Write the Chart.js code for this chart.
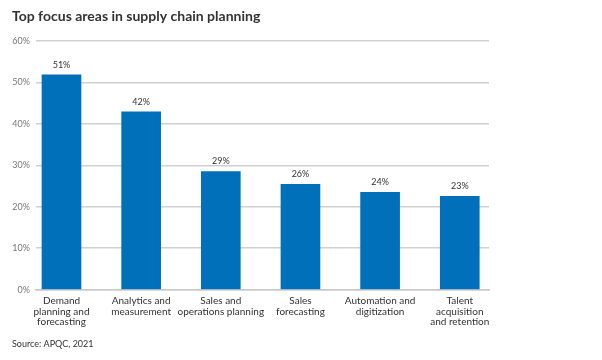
<!DOCTYPE html>
<html>
<head>
<meta charset="utf-8">
<script src="https://cdn.jsdelivr.net/npm/chart.js@4"></script>
<style>
html,body{margin:0;padding:0;background:#fff;}
#wrap{width:602px;height:360px;position:relative;}
</style>
</head>
<body>
<div id="wrap"><canvas id="c" width="602" height="360"></canvas></div>
<script>
const categories = [
  ["Demand", "planning and", "forecasting"],
  ["Analytics and", "measurement"],
  ["Sales and", "operations planning"],
  ["Sales", "forecasting"],
  ["Automation and", "digitization"],
  ["Talent", "acquisition", "and retention"]
];
const values = [51.8, 42.9, 28.5, 25.4, 23.5, 22.5];
const valueLabels = ["51%", "42%", "29%", "26%", "24%", "23%"];
const yTicks = [0, 10, 20, 30, 40, 50, 60];

const FONT = "Lato, 'Open Sans', sans-serif";

const barLabelPlugin = {
  id: 'barLabels',
  afterDatasetsDraw(chart) {
    const ctx = chart.ctx;
    const meta = chart.getDatasetMeta(0);
    ctx.save();
    ctx.font = "9px " + FONT;
    ctx.fillStyle = '#333';
    ctx.textAlign = 'center';
    ctx.textBaseline = 'middle';
    meta.data.forEach((el, i) => {
      ctx.fillText(valueLabels[i], el.x, el.y - 10);
    });
    ctx.restore();
  }
};

new Chart(document.getElementById('c'), {
  type: 'bar',
  data: {
    datasets: [{
      data: values.map((v, i) => ({x: i, y: v})),
      backgroundColor: '#0070BB',
      borderWidth: 0,
      barThickness: 39
    }]
  },
  options: {
    responsive: false,
    animation: false,
    devicePixelRatio: 1,
    layout: { padding: { left: 12, right: 113, top: 8, bottom: 11 } },
    plugins: {
      legend: { display: false },
      tooltip: { enabled: false },
      title: {
        display: true,
        text: 'Top focus areas in supply chain planning',
        align: 'start',
        color: '#333',
        font: { family: FONT, size: 14, weight: 'bold' },
        padding: { top: 0, bottom: 16 }
      },
      subtitle: {
        display: true,
        position: 'bottom',
        text: 'Source: APQC, 2021',
        align: 'start',
        color: '#333',
        font: { family: FONT, size: 9 },
        padding: { top: 5, bottom: 0 }
      }
    },
    scales: {
      x: {
        type: 'linear',
        offset: false,
        min: -0.32,
        max: 5.367,
        grid: { display: false, drawTicks: false },
        border: { display: true, color: '#c8c8c8', width: 1.5 },
        ticks: {
          stepSize: 1,
          includeBounds: false,
          autoSkip: false,
          maxRotation: 0,
          padding: 6,
          color: '#333',
          font: { family: FONT, size: 10, lineHeight: 1.05 },
          callback: (v) => (Number.isInteger(v) && categories[v]) ? categories[v] : ''
        }
      },
      y: {
        min: 0,
        max: 60,
        afterFit: (s) => { s.width = 24; },
        afterBuildTicks: (s) => { s.ticks = yTicks.map(v => ({value: v})); },
        grid: { color: '#d0d0d0', lineWidth: 1.5, drawTicks: false },
        border: { display: false },
        ticks: {
          padding: 6,
          color: '#777',
          font: { family: FONT, size: 9 },
          callback: (v) => v + '%'
        }
      }
    }
  },
  plugins: [barLabelPlugin]
});
</script>
</body>
</html>
